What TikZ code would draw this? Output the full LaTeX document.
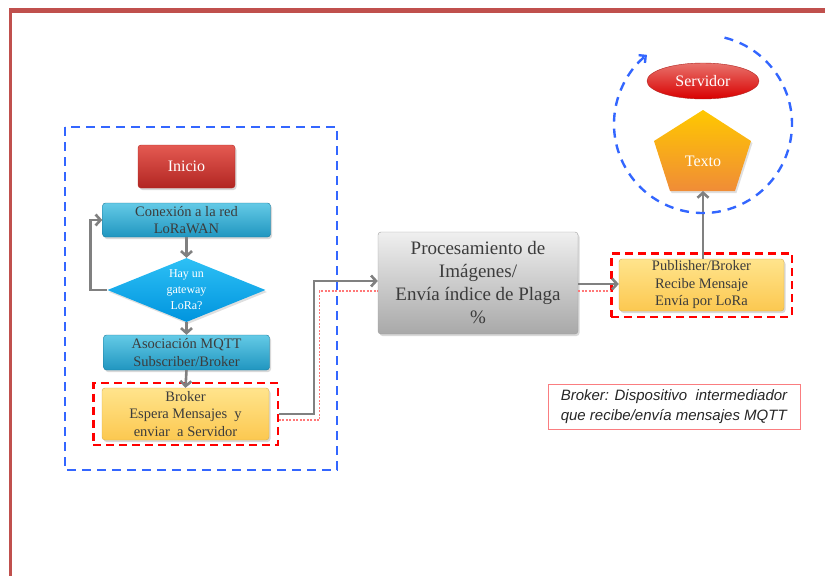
\documentclass[tikz,border=0pt]{standalone}
\usepackage{fontspec}
\setmainfont{Liberation Serif}
\setsansfont{Liberation Sans}
\usepackage{xcolor}
\definecolor{MarcoRojo}{RGB}{192,80,77}
\definecolor{AzulLinea}{RGB}{51,102,255}
\definecolor{GrisFlecha}{RGB}{128,128,128}
\definecolor{TextoGris}{RGB}{60,60,60}
\definecolor{CianArriba}{RGB}{100,202,230}
\definecolor{CianAbajo}{RGB}{32,150,192}
\definecolor{AmarilloArriba}{RGB}{255,228,140}
\definecolor{AmarilloAbajo}{RGB}{252,200,80}
\definecolor{AmarilloBorde}{RGB}{215,175,80}
\definecolor{RojoArriba}{RGB}{228,90,82}
\definecolor{RojoAbajo}{RGB}{178,38,34}
\definecolor{NotaRojo}{RGB}{250,125,128}
\usepackage{tikz}
\usetikzlibrary{arrows.meta, shapes.geometric, shadows, fit}

\begin{document}
\begin{tikzpicture}[x=1pt, y=-1pt,
    every node/.style={font=\fontsize{14.5}{17.5}\selectfont, align=center, inner sep=0pt},
    caja/.style={rectangle, rounded corners=3pt, text=TextoGris,
      drop shadow={opacity=0.3, shadow xshift=1.5pt, shadow yshift=-2pt}},
    cajaazul/.style={caja, top color=CianArriba, bottom color=CianAbajo, draw=CianAbajo!80!black, thin},
    cajaamarilla/.style={caja, top color=AmarilloArriba, bottom color=AmarilloAbajo, draw=AmarilloBorde, thin},
    cajaroja/.style={caja, top color=RojoArriba, bottom color=RojoAbajo, draw=RojoAbajo, thin, text=white},
    cajagris/.style={caja, top color=gray!12, bottom color=gray!68, draw=gray!75, thin},
    flujo/.style={draw=GrisFlecha, line width=2.6pt, -{Straight Barb[length=5pt, width=11pt]}},
    punteado/.style={draw={rgb,255:red,255;green,120;blue,120}, dash pattern=on 2pt off 1.5pt, line width=1.1pt},
    marcoazul/.style={draw=AzulLinea, line width=2.4pt, dash pattern=on 9pt off 6pt},
    marcorojo/.style={draw=red, line width=2.4pt, dash pattern=on 8pt off 5pt}]

    \useasboundingbox (0,0) rectangle (825,576);

    % --- Marco de la pagina ---
    \fill[MarcoRojo] (9,7.5) rectangle (825,12.5);
    \fill[MarcoRojo] (9,7.5) rectangle (12,576);

    % --- Nodo (bloque izquierdo) ---
    \draw[marcoazul] (65,127) rectangle (337,470);
    \node[cajaroja, minimum width=97, minimum height=43, font=\fontsize{16}{19}\selectfont] (inicio) at (186.5,166.5) {Inicio};
    \node[cajaazul, minimum width=168, minimum height=34] (conexion) at (186.5,220) {Conexión a la red\\LoRaWAN};
    \node[diamond, aspect=2.5, minimum width=158, minimum height=64, top color={rgb,255:red,45;green,192;blue,245},
      bottom color={rgb,255:red,0;green,148;blue,222}, text=white, font=\fontsize{12}{16}\selectfont,
      drop shadow={opacity=0.25, shadow xshift=1.5pt, shadow yshift=-2pt}] (gateway) at (186.5,290) {Hay un\\gateway\\LoRa?};
    \node[cajaazul, minimum width=166, minimum height=35] (asociacion) at (186.5,352.5) {Asociación MQTT\\Subscriber/Broker};
    \node[cajaamarilla, minimum width=167, minimum height=52] (brokerizq) at (185.5,414) {Broker\\Espera Mensajes~ y\\enviar~ a Servidor};
    \node[marcorojo, fit=(brokerizq), inner xsep=8.5pt, inner ysep=5pt] (brokerfr) {};

    \draw[flujo] (conexion.south) -- (gateway.north);
    \draw[flujo] (gateway.west) -- ++(-17,0) |- (conexion.west);
    \draw[flujo] (gateway.south) -- (asociacion.north);
    \draw[flujo] (asociacion.south) -- (brokerizq.north);

    % --- Procesamiento ---
    \node[cajagris, minimum width=200, minimum height=102, font=\fontsize{19}{23}\selectfont] (proc) at (478,283)
      {Procesamiento de\\Imágenes/\\Envía índice de Plaga\\\%};
    \draw[flujo] (brokerfr.east) -- ++(35,0) |- ([yshift=2pt]proc.west);
    \draw[punteado] ([yshift=-6pt]brokerfr.east) -- ++(41,0) |- ([yshift=-8pt]proc.west);

    % --- Gateway (bloque derecho) ---
    \node[cajaamarilla, minimum width=165, minimum height=52] (pub) at (701.5,285) {Publisher/Broker\\Recibe Mensaje\\Envía por LoRa};
    \node[marcorojo, fit=(pub), inner xsep=7.5pt, inner ysep=5.5pt] (pubfr) {};
    \draw[flujo] ([yshift=-1pt]proc.east) -- ([yshift=-1pt]proc.east -| pub.west);
    \draw[punteado] ([yshift=-8pt]proc.east) -- ([yshift=-8pt]proc.east -| pubfr.west);

    % --- Servidor ---
    \shade[top color={rgb,255:red,255;green,200;blue,0}, bottom color={rgb,255:red,240;green,140;blue,55},
      drop shadow={opacity=0.25, shadow xshift=1.5pt, shadow yshift=-2pt}]
      (703,110) -- (751,141) -- (735,191) -- (670,191) -- (654,141) -- cycle;
    \node[text=white, font=\fontsize{16}{19}\selectfont] (texto) at (703,161) {Texto};
    \coordinate (textobase) at (703,191);
    \node[ellipse, minimum width=112, minimum height=36, top color=RojoArriba!85!white, bottom color=red!85!black,
      draw=RojoAbajo, thin, text=white, font=\fontsize{16}{19}\selectfont] (servidor) at (703,81) {Servidor};
    \draw[flujo] (textobase |- pub.north) -- (textobase);
    \draw[marcoazul, dash pattern=on 9pt off 7pt, -{Straight Barb[length=5pt, width=10pt]}]
      (703,124) ++(-76:89) arc[start angle=-76, end angle=231, radius=89];

    % --- Nota ---
    \node[draw=NotaRojo, line width=0.9pt, minimum width=252, minimum height=45, align=left, text=black!85,
      font=\sffamily\itshape\fontsize{15}{20}\selectfont] (nota) at (674,406.5)
      {Broker: Dispositivo~ intermediador\\que recibe/envía mensajes MQTT};

\end{tikzpicture}
\end{document}
